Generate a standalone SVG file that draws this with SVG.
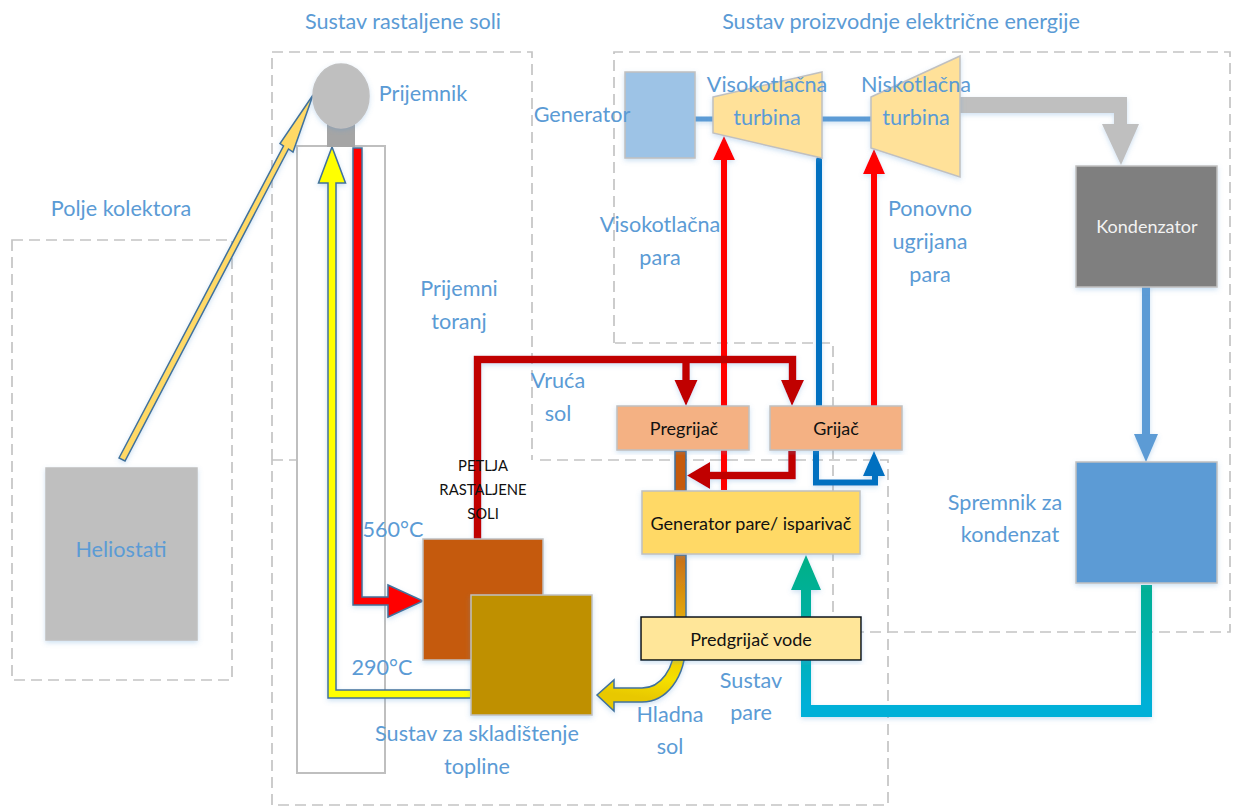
<svg xmlns="http://www.w3.org/2000/svg" width="1245" height="808" viewBox="0 0 1245 808">
<style>
text{font-family:"Lato","Liberation Sans",sans-serif;text-anchor:middle}
.l{font-size:21.6px;fill:#5b9bd5}
.b{font-size:18px;fill:#111}
.s{font-size:14.8px;fill:#111}
.d{fill:none;stroke:#c4c4c4;stroke-width:1.7;stroke-dasharray:11 6}
.n{stroke:#c0c0c0;stroke-width:1.5;filter:url(#sh)}
.o{stroke:#41719c;stroke-width:1.5;stroke-linejoin:miter}
</style>
<defs>
<filter id="sh" x="-10%" y="-10%" width="120%" height="120%"><feDropShadow dx="0" dy="2" stdDeviation="2.5" flood-color="#5b9bd5" flood-opacity="0.3"/></filter>
<linearGradient id="teal" gradientUnits="userSpaceOnUse" x1="0" y1="556" x2="0" y2="705"><stop offset="0" stop-color="#00b086"/><stop offset="0.5" stop-color="#00b0a8"/><stop offset="1" stop-color="#00b0d8"/></linearGradient>
<linearGradient id="salt" gradientUnits="userSpaceOnUse" x1="680" y1="556" x2="660" y2="700"><stop offset="0" stop-color="#c8701a"/><stop offset="0.6" stop-color="#eec000"/><stop offset="0.85" stop-color="#f5e000"/><stop offset="1" stop-color="#e8c800"/></linearGradient>
</defs>
<g id="boundaries">
<rect class="d" x="12" y="240" width="220" height="440"/>
<path class="d" d="M272 460V52H532V460"/>
<path class="d" d="M272 460H305M540 460H888V805H272V460"/>
<path class="d" d="M614 343V52H1230V632H833V343H614"/>
</g>
<g id="tower"><rect x="297" y="146" width="88" height="627" fill="#fff" stroke="#bfbfbf" stroke-width="2"/></g>
<g id="connectors" filter="url(#sh)">
<polygon id="sun-ray" class="o" fill="#ffd966" points="119,458 283.5,146 280,143.5 313,95 293,152 288.5,149 125,461"/>
<polygon id="hot-up" class="o" fill="#ff0000" points="353,148 362,148 362,597 388,597 388,585 423,601 388,617 388,605 353,605"/>
<polygon id="cold-up" class="o" fill="#ffff00" points="471,690 336,690 336,183 345.5,183 332,147 318.5,183 328,183 328,698 471,698"/>
<line id="hp-steam" x1="724" y1="490" x2="724" y2="158" stroke="#ff0000" stroke-width="6"/>
<polygon fill="#ff0000" points="724,136 713,160 735,160"/>
<line id="lp-steam" x1="874" y1="408" x2="874" y2="170" stroke="#ff0000" stroke-width="6" stroke-linecap="round"/>
<polygon fill="#ff0000" points="874,149 863,174 885,174"/>
<line id="reheat-return" x1="819" y1="160" x2="819" y2="406" stroke="#0070c0" stroke-width="6" stroke-linecap="round"/>
<path id="reheat-loop" d="M816 451V482.5H875V470" fill="none" stroke="#0070c0" stroke-width="6"/>
<polygon fill="#0070c0" points="874,451 863,476 885,476"/>
<path id="hot-salt" d="M477.5 545V359.5H792.5V382M686 359.5V382" fill="none" stroke="#c00000" stroke-width="7.5"/>
<polygon fill="#c00000" points="686,406 674.5,380 697.5,380"/>
<polygon fill="#c00000" points="792,406 781,380 804,380"/>
<polygon class="o" fill="#c55a11" points="675,451 686,451 686,491 675,491"/>
<path id="salt-return" d="M792 451V475.5H708" fill="none" stroke="#c00000" stroke-width="7.5"/>
<polygon fill="#c00000" points="687,475.5 710,462 710,489"/>
<path id="cold-salt" class="o" fill="url(#salt)" d="M675 555H686V640C686 680 665 702 642 702H614V711L597 695L614 680V688H642C660 688 675 670 675 640Z"/>
<polygon id="feedwater" fill="url(#teal)" points="806,555 821,590 811,590 811,705 1141,705 1141,585 1152,585 1152,717 801,717 801,590 791,590"/>
<polygon id="exhaust" fill="#bfbfbf" points="960,97 1127,97 1127,124 1139,124 1121,165 1102,124 1114,124 1114,113 960,113"/>
<line id="condensate" x1="1146" y1="287" x2="1146" y2="436" stroke="#5b9bd5" stroke-width="8" stroke-linecap="round"/>
<polygon fill="#5b9bd5" points="1146,462 1134,434 1158,434"/>
<line id="shaft" x1="695" y1="119" x2="871" y2="119" stroke="#5b9bd5" stroke-width="5"/>
</g>
<g id="receiver-neck"><rect x="327" y="122" width="28" height="25" fill="#a5a5a5"/></g>
<g id="receiver"><ellipse class="n" cx="341" cy="96" rx="28" ry="32" fill="#bfbfbf"/></g>
<g id="generator"><rect class="n" x="625" y="72" width="70" height="86" fill="#9dc3e6"/></g>
<g id="hp-turbine"><polygon class="n" points="713,97 822,72 822,158 713,133" fill="#ffe199"/></g>
<g id="lp-turbine"><polygon class="n" points="871,97 960,56 960,177 871,148" fill="#ffe199"/></g>
<g id="condenser"><rect class="n" x="1076" y="166" width="141" height="121" fill="#7f7f7f"/><text x="1147" y="233" font-size="18" style="fill:#f2f2f2">Kondenzator</text></g>
<g id="condensate-tank"><rect class="n" x="1076" y="462" width="141" height="121" fill="#5b9bd5"/></g>
<g id="heliostats"><rect class="n" x="46" y="468" width="151" height="172" fill="#bfbfbf"/><text class="l" x="121" y="557">Heliostati</text></g>
<g id="hot-tank"><rect class="n" x="423" y="539" width="120" height="121" fill="#c55a11"/></g>
<g id="cold-tank"><rect class="n" x="471" y="595" width="121" height="120" fill="#bf9000"/></g>
<g id="superheater"><rect class="n" x="617" y="406" width="132" height="44" fill="#f4b183"/><text class="b" x="684" y="435">Pregrijač</text></g>
<g id="reheater"><rect class="n" x="770" y="406" width="132" height="44" fill="#f4b183"/><text class="b" x="836" y="435">Grijač</text></g>
<g id="steam-generator"><rect class="n" x="642" y="491" width="218" height="63" fill="#ffd966"/><text class="b" x="751" y="530">Generator pare/ isparivač</text></g>
<g id="preheater"><rect x="641" y="617" width="220" height="43" fill="#ffe699" stroke="#111" stroke-width="1.5" filter="url(#sh)"/><text class="b" x="751" y="646">Predgrijač vode</text></g>
<g id="labels">
<text class="l" x="403" y="29">Sustav rastaljene soli</text>
<text class="l" x="901" y="29">Sustav proizvodnje električne energije</text>
<text class="l" x="121" y="216">Polje kolektora</text>
<text class="l" x="423" y="101">Prijemnik</text>
<text class="l" x="582" y="122">Generator</text>
<text class="l" x="767" y="92">Visokotlačna</text>
<text class="l" x="767" y="125">turbina</text>
<text class="l" x="916" y="92">Niskotlačna</text>
<text class="l" x="916" y="125">turbina</text>
<text class="l" x="660" y="232">Visokotlačna</text>
<text class="l" x="660" y="265">para</text>
<text class="l" x="930" y="216">Ponovno</text>
<text class="l" x="930" y="249">ugrijana</text>
<text class="l" x="930" y="282">para</text>
<text class="l" x="459" y="296">Prijemni</text>
<text class="l" x="459" y="329">toranj</text>
<text class="l" x="558" y="388">Vruća</text>
<text class="l" x="558" y="421">sol</text>
<text class="l" x="393" y="537">560°C</text>
<text class="l" x="382" y="675">290°C</text>
<text class="l" x="477" y="741">Sustav za skladištenje</text>
<text class="l" x="477" y="774">topline</text>
<text class="l" x="670" y="722">Hladna</text>
<text class="l" x="670" y="754">sol</text>
<text class="l" x="751" y="688">Sustav</text>
<text class="l" x="751" y="720">pare</text>
<text class="l" x="1005" y="510">Spremnik za</text>
<text class="l" x="1010" y="542">kondenzat</text>
<text class="s" x="483" y="471">PETLJA</text>
<text class="s" x="483" y="495">RASTALJENE</text>
<text class="s" x="483" y="519">SOLI</text>
</g>
</svg>
